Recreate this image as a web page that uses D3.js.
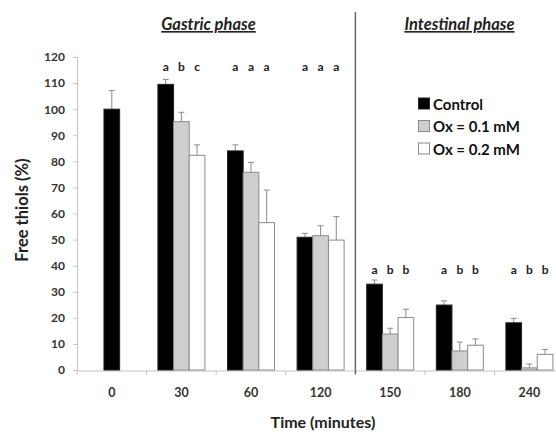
<!DOCTYPE html>
<html>
<head>
<meta charset="utf-8">
<script src="https://cdn.jsdelivr.net/npm/d3@7"></script>
<style>
  html, body { margin: 0; padding: 0; background: #fff; }
  svg { display: block; }
  text { font-family: Lato, "Open Sans", sans-serif; }
</style>
</head>
<body>
<svg id="chart" width="556" height="432"></svg>
<script>
// Sampling times (minutes) and phases
const times = ["0", "30", "60", "120", "150", "180", "240"];
const phases = ["Gastric phase", "Intestinal phase"];
const seriesNames = ["Control", "Ox = 0.1 mM", "Ox = 0.2 mM"];

// Free thiols (%) — mean values
const control = [100, 109.5, 84.0, 50.9, 32.9, 24.9, 18.1];
const ox01 = [null, 95.2, 75.8, 51.5, 13.8, 7.3, 0.8];
const ox02 = [null, 82.3, 56.5, 49.8, 20.1, 9.5, 6.0];

// Standard deviations (upper error bars)
const controlErr = [7.1, 1.9, 2.3, 1.5, 1.6, 1.6, 1.7];
const ox01Err = [null, 3.6, 3.8, 3.8, 2.2, 3.4, 1.5];
const ox02Err = [null, 4.0, 12.5, 9.0, 3.2, 2.4, 1.9];

// Statistical grouping letters (per time point, per series)
const letters = [
  [],
  ["a", "b", "c"],
  ["a", "a", "a"],
  ["a", "a", "a"],
  ["a", "b", "b"],
  ["a", "b", "b"],
  ["a", "b", "b"]
];

const yTicks = [0, 10, 20, 30, 40, 50, 60, 70, 80, 90, 100, 110, 120];

const svg = d3.select("#chart");
const fills = ["#000000", "#cfcfcf", "#ffffff"];
const strokes = ["#222222", "#8a8a8a", "#8a8a8a"];

const x = d3.scaleBand().domain(times).range([77, 564.2]).padding(0);
const y = d3.scaleLinear().domain([0, 120]).range([370, 57]);
const groupW = 47;
const barW = groupW / 3;

const series = [control, ox01, ox02];
const errs = [controlErr, ox01Err, ox02Err];

// Y axis
const yAxis = svg.append("g")
  .attr("transform", "translate(77,0)")
  .call(d3.axisLeft(y).tickValues(yTicks).tickSize(4).tickPadding(8));
yAxis.select(".domain").attr("stroke", "#c4c4c4");
yAxis.selectAll(".tick line").attr("stroke", "#c4c4c4");
yAxis.selectAll(".tick text")
  .attr("fill", "#333").attr("font-size", 12).attr("font-weight", 700);

// X axis
const xAxis = svg.append("g")
  .attr("transform", "translate(0,370.5)")
  .call(d3.axisBottom(x).tickSize(0).tickPadding(17.5));
xAxis.select(".domain").attr("stroke", "#c4c4c4");
xAxis.selectAll(".tick text")
  .attr("fill", "#333").attr("font-size", 12.5).attr("font-weight", 700);
// Band boundary tick marks
svg.append("g").selectAll("line")
  .data(times)
  .join("line")
  .attr("x1", d => x(d)).attr("x2", d => x(d))
  .attr("y1", 370.5).attr("y2", 375)
  .attr("stroke", "#c4c4c4");

// Bar position helper: a lone bar sits in the middle of its band
function barX(i, s) {
  const cat = times[i];
  const present = series.filter(arr => arr[i] != null).length;
  const center = x(cat) + x.bandwidth() / 2;
  if (present === 1) return center - barW / 2;
  return center - groupW / 2 + s * barW;
}

const bars = svg.append("g");
series.forEach((vals, s) => {
  const g = bars.append("g");
  // error bars (upper only)
  g.selectAll("path.err")
    .data(vals.map((v, i) => ({ v, i, e: errs[s][i] })).filter(d => d.v != null))
    .join("path")
    .attr("class", "err")
    .attr("fill", "none")
    .attr("stroke", "#8a8a8a")
    .attr("stroke-width", 1)
    .attr("d", d => {
      const cx = barX(d.i, s) + barW / 2;
      const top = y(d.v + d.e);
      return `M${cx},${y(d.v)}V${top}M${cx - 3},${top}H${cx + 3}`;
    });
  g.selectAll("rect")
    .data(vals.map((v, i) => ({ v, i })).filter(d => d.v != null))
    .join("rect")
    .attr("x", d => barX(d.i, s))
    .attr("y", d => y(d.v))
    .attr("width", barW)
    .attr("height", d => y(0) - y(d.v))
    .attr("fill", fills[s])
    .attr("stroke", strokes[s])
    .attr("stroke-width", 1);
});

// Grouping letters
letters.forEach((row, i) => {
  const rowY = i <= 3 ? 70.5 : 273.5;
  row.forEach((t, s) => {
    svg.append("text")
      .attr("x", barX(i, s) + barW / 2)
      .attr("y", rowY)
      .attr("text-anchor", "middle")
      .attr("font-size", 12)
      .attr("font-weight", 700)
      .attr("fill", "#222")
      .text(t);
  });
});

// Divider between phases
const divX = x("150");
svg.append("line")
  .attr("x1", divX).attr("x2", divX)
  .attr("y1", 12).attr("y2", 374)
  .attr("stroke", "#666").attr("stroke-width", 1.5);

// Phase titles
const phaseCenters = [208.5, 459.5];
phases.forEach((p, k) => {
  svg.append("text")
    .attr("x", phaseCenters[k]).attr("y", 30)
    .attr("text-anchor", "middle")
    .attr("font-size", 16.5)
    .attr("font-weight", 700)
    .attr("font-style", "italic")
    .attr("text-decoration", "underline")
    .attr("fill", "#222")
    .text(p);
});

// Legend
const legend = svg.append("g").attr("transform", "translate(418,104)");
seriesNames.forEach((name, s) => {
  const ly = s * 22.5;
  legend.append("rect")
    .attr("x", 0.5).attr("y", ly - 6)
    .attr("width", 11).attr("height", 11)
    .attr("fill", fills[s]).attr("stroke", strokes[s]);
  legend.append("text")
    .attr("x", 15).attr("y", ly + 5.5)
    .attr("font-size", 15).attr("font-weight", 700)
    .attr("fill", "#111")
    .text(name);
});

// Axis titles
svg.append("text")
  .attr("transform", "translate(28,210) rotate(-90)")
  .attr("text-anchor", "middle")
  .attr("font-size", 16.5).attr("font-weight", 700)
  .attr("fill", "#222")
  .text("Free thiols (%)");

svg.append("text")
  .attr("x", 323).attr("y", 428)
  .attr("text-anchor", "middle")
  .attr("font-size", 16).attr("font-weight", 700)
  .attr("fill", "#222")
  .text("Time (minutes)");
</script>
</body>
</html>
